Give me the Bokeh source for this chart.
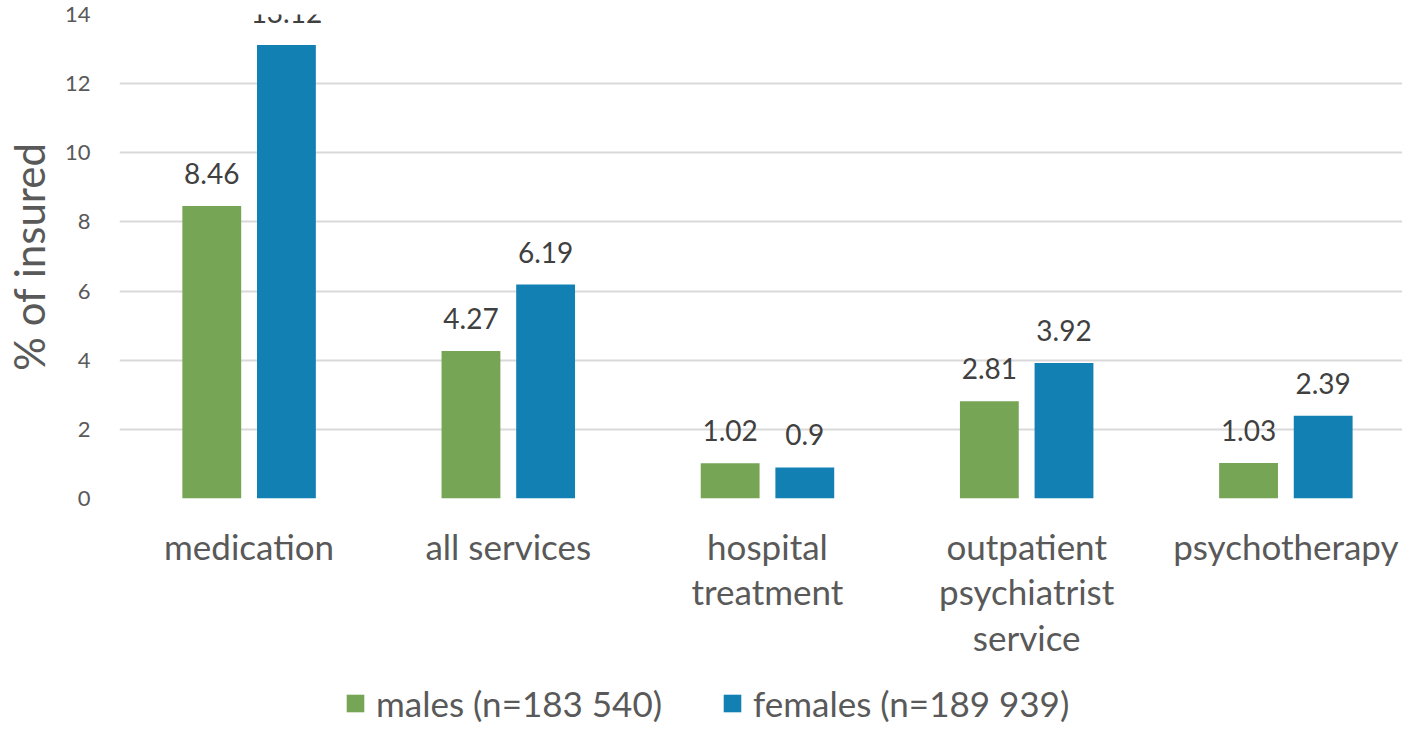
from bokeh.plotting import figure
from bokeh.layouts import column
from bokeh.models import (ColumnDataSource, Range1d, FixedTicker, LabelSet, Legend,
                          LegendItem)
from bokeh.core.properties import value
from bokeh.transform import dodge
from bokeh.embed import file_html
from bokeh.resources import INLINE

categories = ["medication", "all services", "hospital\ntreatment",
              "outpatient\npsychiatrist\nservice", "psychotherapy"]
males = [8.46, 4.27, 1.02, 2.81, 1.03]
females = [13.12, 6.19, 0.9, 3.92, 2.39]
series_names = ["males (n=183 540)", "females (n=189 939)"]
y_ticks = [0, 2, 4, 6, 8, 10, 12, 14]

GREEN = "#76A555"
BLUE = "#1380B4"
FONT = "Lato"

xpos = [i + 0.5 for i in range(len(categories))]
src = ColumnDataSource(dict(
    x=xpos, males=males, females=females,
    mlab=[str(v) for v in males], flab=[str(v) for v in females]))

p = figure(width=1402, height=680, output_backend="svg", toolbar_location=None,
           x_range=Range1d(0, 1287 / 260), y_range=Range1d(0, 14),
           min_border_left=115, min_border_right=0, min_border_top=14,
           min_border_bottom=182)
p.outline_line_color = None
p.background_fill_color = "white"

off = 0.144
w = 0.227
r1 = p.vbar(x=dodge("x", -off, range=p.x_range), top="males", width=w, source=src,
            fill_color=GREEN, line_color=None)
r2 = p.vbar(x=dodge("x", off, range=p.x_range), top="females", width=w, source=src,
            fill_color=BLUE, line_color=None)

for col, d in (("mlab", -off), ("flab", off)):
    ycol = "males" if col == "mlab" else "females"
    p.add_layout(LabelSet(x=dodge("x", d, range=p.x_range), y=ycol, text=col, source=src,
                          text_align="center", text_baseline="alphabetic", y_offset=22,
                          text_font=value(FONT), text_font_size=value("28px"),
                          text_color="#404040"))

# grid
p.xgrid.grid_line_color = None
p.ygrid.grid_line_color = "#D9D9D9"
p.ygrid.grid_line_width = 2
p.yaxis.ticker = FixedTicker(ticks=y_ticks)

# y axis
ya = p.yaxis[0]
ya.axis_line_color = None
ya.major_tick_line_color = None
ya.minor_tick_line_color = None
ya.major_tick_out = 0
ya.major_tick_in = 0
ya.major_label_standoff = 29
ya.major_label_text_font = FONT
ya.major_label_text_font_size = "22px"
ya.major_label_text_color = "#595959"
ya.axis_label = "% of insured"
ya.axis_label_text_font = FONT
ya.axis_label_text_font_size = "42px"
ya.axis_label_text_font_style = "normal"
ya.axis_label_text_color = "#595959"
ya.axis_label_standoff = 8

# x axis
xa = p.xaxis[0]
xa.ticker = FixedTicker(ticks=xpos)
xa.major_label_overrides = {x: c for x, c in zip(xpos, categories)}
xa.axis_line_color = None
xa.major_tick_line_color = None
xa.minor_tick_line_color = None
xa.major_tick_out = 0
xa.major_tick_in = 0
xa.major_label_standoff = 26
xa.major_label_text_font = FONT
xa.major_label_text_font_size = "35px"
xa.major_label_text_color = "#595959"
xa.major_label_text_line_height = 1.09

# legend strip below the chart
lg = figure(width=1402, height=46, output_backend="svg", toolbar_location=None,
            x_range=Range1d(0, 1), y_range=Range1d(0, 1),
            x_axis_location=None, y_axis_location=None,
            min_border_left=0, min_border_right=0, min_border_top=0, min_border_bottom=0)
lg.grid.visible = False
lg.outline_line_color = None
k1 = lg.vbar(x="x", top="males", width=w, source=src, fill_color=GREEN,
             line_color=None, visible=False)
k2 = lg.vbar(x="x", top="females", width=w, source=src, fill_color=BLUE,
             line_color=None, visible=False)
legend = Legend(items=[LegendItem(label=value(series_names[0]), renderers=[k1]),
                       LegendItem(label=value(series_names[1]), renderers=[k2])],
                orientation="horizontal", location=(225, 2),
                glyph_width=22, glyph_height=22, label_standoff=10, spacing=59,
                label_text_font=FONT, label_text_font_size="35px",
                label_text_color="#595959", border_line_color=None,
                background_fill_alpha=0, padding=0, margin=0,
                inactive_fill_alpha=0)
lg.add_layout(legend, "center")

open("out.html", "w").write(file_html(column(p, lg, spacing=0), INLINE))
